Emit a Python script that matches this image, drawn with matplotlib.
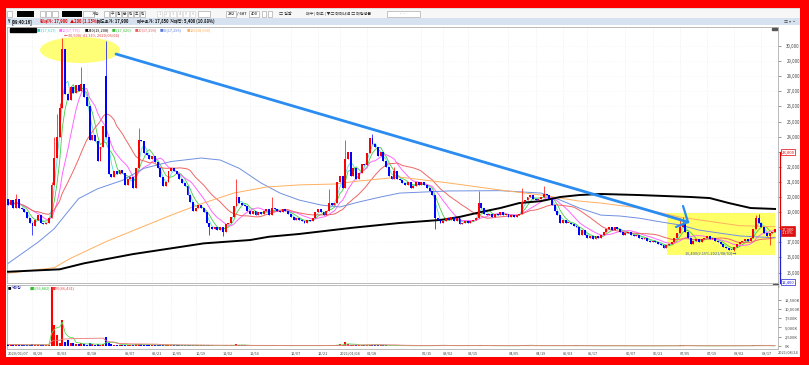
import numpy as np
import pandas as pd
import matplotlib.pyplot as plt
from matplotlib.patches import Rectangle, Ellipse

plt.rcParams['font.family'] = ['Noto Sans CJK KR', 'DejaVu Sans']

# === DATA ===
close = [
    19500, 19800, 19300, 19900, 19300, 19200, 19000, 18600, 18300, 18100,
    18500, 18800, 18300, 18200, 18300, 18600, 20800,
    22600, 24000, 25900, 29800, 26800, 26400, 27300, 26900, 27400, 27000,
    27500, 26600, 26000, 23800, 24100, 23700, 22400, 23300, 24700, 24000,
    21500, 21300, 21700, 21500, 21800, 21600, 20800, 21200, 21300, 20600,
    21900, 23800, 23700, 22900, 22800, 22500, 22700, 22300, 21900, 21300,
    20700, 21000, 21700, 21900, 21700, 21500, 21200, 20900, 20700, 20100,
    19700, 19100, 19300,
    19500, 19300, 19000, 18300, 18000, 17900, 18000, 17800, 18000, 17700,
    18200, 18300, 18700, 19400, 20000, 19600, 19500, 19400, 19100, 18900,
    19100, 18800, 19000, 18900, 19100, 19200, 18800, 19300, 19200, 19100,
    19000, 19200, 19100, 18900, 18700, 18500, 18600, 18500, 18400, 18300,
    18500, 18400, 18600, 19000, 19200, 19000, 18800, 19100, 19600, 19500,
    19600, 21000,
    21400, 20600, 22500, 23000, 21400, 21900, 21200, 21600, 22200, 22100,
    22900, 23900, 23500, 23300, 22700, 23000, 22400, 22000, 21400, 21200,
    21700, 21200, 21100, 20900, 20800, 21000, 20600, 20700, 21000, 20800,
    21000, 20800, 20600, 20400, 20100, 18600, 18500, 18300, 18400, 18600,
    18500, 18700, 18400, 18600, 18200, 18300, 18400, 18300, 18400, 18500,
    18600, 19600,
    19300, 18900, 18800, 18900, 18700, 18900, 18800, 19000, 18800, 18900,
    18700, 18800, 18700, 18800, 18900, 19700, 19800, 20000, 20100, 19900,
    19800, 19900, 20000, 20200, 20100, 19900, 19500, 19100, 18800, 18300,
    18500, 18300, 18300, 18200, 18100, 18000, 17500, 17800, 17500, 17300,
    17400, 17200, 17400, 17300, 17500, 17700, 17900, 18000, 17800, 18000,
    17900, 17700, 17500,
    17600, 17700, 17500, 17400, 17500, 17300, 17200, 17300, 17100, 17000,
    17100, 17000, 16900, 16800, 16600, 16800, 16900, 17000, 17300, 17600,
    18000, 18300, 17700, 17300, 16900, 17100, 17200, 17000, 17200, 17300,
    17400, 17200, 17300, 17100, 17000, 16900, 16700, 16600, 16500, 16500,
    16700, 16900, 17000, 17100, 17200, 17100, 17300, 17900, 18600, 18300,
    18000, 17600, 17400, 17600, 17700, 17900,
]
open_gap = {36: 28000}
high_wick = {3: 20200, 16: 21000, 17: 24000, 18: 25500, 19: 26200, 20: 30500,
             21: 29500, 27: 28600, 36: 30300, 48: 24600, 84: 21200, 97: 20000,
             118: 20500, 124: 23800, 134: 24200, 142: 22000, 173: 20400,
             189: 20600, 197: 20700, 247: 18600, 248: 18700, 275: 18800,
             276: 18900}
low_wick = {9: 17500, 74: 17500, 79: 17400, 157: 17900, 267: 16400, 280: 16800}

volume_k = [
    420, 380, 300, 350, 280, 260, 300, 340, 320, 450, 380, 300, 260, 240, 220, 300,
    15800, 5600, 2950, 800, 7000, 1100, 1500, 900, 700, 600, 500, 800, 500, 400,
    700, 500, 400, 450, 400, 600, 2500,
    900, 500, 400, 300, 350, 300, 400, 300, 250, 350, 500, 550, 450, 350, 300, 300,
    250, 300, 250, 300, 350, 250, 300, 250, 200, 200, 150, 200, 180, 220, 250, 200, 200,
    150, 150, 180, 220, 200, 150, 120, 100, 100, 120, 150, 120, 180, 300, 450, 250,
    180, 150, 120, 100, 100, 90, 80, 100, 120, 100, 100, 300, 150, 100, 90, 80, 80,
    90, 100, 80, 70, 80, 70, 60, 70, 60, 80, 120, 100, 90, 80, 100, 250, 150, 180, 400,
    500, 300, 1100, 500, 300, 250, 200, 250, 300, 250, 350, 400, 300, 250, 200, 200,
    150, 150, 120, 100, 120, 100, 90, 80, 80, 90, 80, 70, 80, 70, 80, 70, 60, 70, 80,
    400, 200, 150, 120, 100, 90, 80, 90, 80, 100, 80, 70, 60, 70, 60, 80, 200,
    150, 100, 80, 70, 60, 70, 60, 70, 80, 60, 60, 70, 60, 70, 80, 400, 200, 150, 120,
    100, 80, 70, 80, 100, 120, 80, 70, 90, 100, 80, 90, 80, 70, 60, 70, 150, 100, 80,
    70, 60, 60, 50, 60, 50, 60, 70, 80, 90, 70, 60, 60, 50, 50,
    50, 60, 50, 40, 50, 40, 40, 50, 40, 40, 50, 40, 40, 50, 60, 50, 40, 50, 80, 100,
    150, 200, 100, 80, 70, 50, 40, 50, 40, 40, 50, 40, 40, 50, 40, 50, 60, 50, 60, 80,
    70, 60, 50, 50, 60, 50, 60, 150, 300, 200, 120, 80, 60, 50, 40, 5.4,
]

# long moving averages (bar index, value)
ma60_idx = [0, 11, 17, 21, 26, 33, 42, 50, 60, 71, 78, 85, 93, 100, 107, 115, 122,
            129, 137, 144, 162, 181, 196, 203, 210, 218, 225, 232, 240, 247, 254,
            262, 269, 282]
ma60_val = [15600, 17000, 17900, 18800, 19900, 20550, 21100, 21900, 22350, 22580,
            22450, 21900, 20930, 20260, 19800, 19470, 19340, 19670, 20000, 20260,
            20400, 20420, 20260, 19800, 19270, 18800, 18740, 18600, 18350, 18150,
            17810, 17600, 17420, 17295]
ma120_idx = [0, 17, 23, 36, 48, 60, 71, 83, 95, 107, 120, 129, 144, 162, 181, 196,
             210, 218, 232, 247, 262, 269, 282]
ma120_val = [14950, 15320, 15940, 17040, 17920, 18800, 19550, 20260, 20660, 20800,
             20860, 21060, 21320, 20930, 20460, 20130, 19730, 19600, 19270, 18670,
             18280, 18100, 18030]
ma240_idx = [0, 19, 28, 46, 64, 72, 89, 96, 107, 126, 144, 159, 166, 174, 181, 188,
             196, 203, 210, 218, 232, 251, 258, 265, 273, 282]
ma240_val = [15050, 15210, 15610, 16220, 16710, 16930, 17150, 17370, 17550, 17950,
             18280, 18480, 18680, 19010, 19270, 19600, 19730, 20000, 20130, 20200,
             20130, 20000, 19930, 19600, 19270, 19208]

date_idx = [0, 9, 18, 29, 43, 53, 60, 69, 79, 89, 104, 114, 122, 132, 152, 160,
            169, 184, 194, 204, 213, 227, 237, 247, 257, 267, 277]
date_lbl = ['2020/01/07', '01/20', '06/03', '06/18', '09/07', '09/21', '10/05',
            '10/19', '11/02', '11/16', '12/07', '12/21', '2021/01/04', '01/18',
            '02/15', '03/02', '03/15', '04/05', '04/19', '05/03', '05/17', '06/07',
            '06/21', '07/05', '07/19', '08/02', '08/17']
last_date = '2021/08/24'
price_ticks = [15000, 16000, 17000, 18000, 19000, 20000, 21000, 22000, 23000,
               24000, 25000, 26000, 27000, 28000, 29000, 30000]
vol_ticks = [0, 2500, 5000, 7500, 10000, 12500]

legend_items = [('3(17,617)', '#33cccc'), ('10(17,775)', '#ff66ff'),
                ('240(19,208)', '#000000'), ('5(17,620)', '#33bb33'),
                ('20(17,290)', '#ee5555'), ('60(17,295)', '#5577dd'),
                ('120(18,030)', '#ffaa55')]
legend_x = [37, 59, 85, 112, 135, 160, 187]

# === FRAME ===
W, H = 809, 365
fig = plt.figure(figsize=(W / 100, H / 100), dpi=100)
fig.patch.set_facecolor('white')


def px_axes(x0, y0, x1, y1, **kw):
    return fig.add_axes([x0 / W, 1 - y1 / H, (x1 - x0) / W, (y1 - y0) / H], **kw)


# toolbar / info bar in pixel coords
bg = px_axes(0, 0, W, H, zorder=-5)
bg.set_xlim(0, W)
bg.set_ylim(H, 0)
bg.axis('off')
bg.add_patch(Rectangle((6, 8), 794, 10, facecolor='#f7f7f7', edgecolor='#c8c8c8', lw=0.4))
bg.add_patch(Rectangle((6, 18), 794, 7, color='#d6e2f0', lw=0))
for x0, w in [(17, 17), (62, 20)]:
    bg.add_patch(Rectangle((x0, 10.5), w, 6, color='black', lw=0))
for x0, w in [(7, 5), (40, 5), (46, 5), (52, 6), (83, 11), (104, 5), (110, 5),
              (116, 5), (122, 5), (128, 5), (134, 5), (140, 5), (198, 12),
              (226, 10), (249, 10), (262, 4), (268, 4)]:
    bg.add_patch(Rectangle((x0, 10.5), w, 6, facecolor='white', edgecolor='#9a9a9a', lw=0.4))
for k in range(6):
    bg.add_patch(Rectangle((157 + k * 6.6, 10.5), 5.5, 6, facecolor='white',
                           edgecolor='#cfcfcf', lw=0.4))
    bg.text(159.8 + k * 6.6, 13.6, str(k + 1), fontsize=3.0, color='#b0b0b0',
            ha='center', va='center')
bg.text(96, 13.6, '계속', fontsize=3.0, ha='center', va='center', color='#333333')
for k, ch in enumerate('주월분틱초틱'):
    bg.text(112.5 + k * 6, 13.6, ch, fontsize=2.7, ha='center', va='center',
            color='#333333')
bg.text(231, 13.6, '282', fontsize=3.0, ha='center', va='center')
bg.text(242, 13.6, '/ 687', fontsize=3.0, ha='center', va='center')
bg.text(254, 13.6, '400', fontsize=3.0, ha='center', va='center')
bg.text(285, 13.6, '□ 일괄', fontsize=3.0, ha='center', va='center', color='#333333')
bg.text(306, 13.6, '배수 | 매도 | ▼□ 매매내역 □ 매입평균', fontsize=2.9, va='center',
        color='#333333')
bg.add_patch(Rectangle((387, 10.5), 33, 6, facecolor='white', edgecolor='#9a9a9a', lw=0.4))
bg.text(402, 13.6, '-  -', fontsize=3.0, ha='center', va='center', color='#666666')
info = [(7, 'Y', '#111111'), (12, '[09:40:16]', '#111111'),
        (40, '현재가: 17,900', '#dd0000'), (70, '▲200 (1.13%)', '#dd0000'),
        (97, '매도호가: 17,900', '#111111'), (137, '매수호가: 17,850', '#111111'),
        (170, '거래량: 5,400 (10.88%)', '#111111')]
for x0, txt, cc in info:
    bg.text(x0, 21.6, txt, fontsize=3.0, va='center', color=cc, fontweight='bold')
bg.text(796, 21.6, '▥ ▾ ▪', fontsize=3.0, va='center', ha='right', color='#555555')
bg.text(778, 352.5, last_date, fontsize=2.8, va='center', ha='left', color='#444444')

# === PRICE PANE ===
X0 = 8
DX = 2.72
PY0 = 46
PK = 0.0151


def bx(x):
    return (x - X0) / DX


def py(y):
    return 30000 - (y - PY0) / PK


n = len(close)
idx = np.arange(n)
c = np.array(close, dtype=float)
o = np.r_[c[0] + 400, c[:-1]]
for k, v in open_gap.items():
    o[k] = v
hi = np.maximum(o, c)
lo = np.minimum(o, c)
for k, v in high_wick.items():
    hi[k] = v
for k, v in low_wick.items():
    lo[k] = v
up = c >= o
col = np.where(up, '#ff0000', '#0000ff')

ax = px_axes(7, 27, 778, 283)
ax.set_xlim(bx(7), bx(778))
ax.set_ylim(py(283), py(27))
for s in ax.spines.values():
    s.set_color('#b0b0b0')
    s.set_linewidth(0.6)
ax.set_xticks([])
ax.yaxis.tick_right()
ax.set_yticks(price_ticks)
ax.set_yticklabels(['' if t in (18000, 23000) else f'{t:,}' for t in price_ticks])
ax.tick_params(axis='y', labelsize=3.1, length=2, width=0.4, colors='#444444', pad=4)
for t in price_ticks:
    ax.axhline(t, color='#f0f0f0', lw=0.4, ls=':', zorder=0)
for d in date_idx:
    ax.axvline(d, color='#e4e4e4', lw=0.4, ls=':', zorder=0)

# highlights (behind candles)
ax.add_patch(Ellipse((bx(80), py(50)), bx(120) - bx(40), py(37) - py(63),
                     facecolor='#ffff77', edgecolor='none', zorder=1))
ax.add_patch(Rectangle((bx(667), py(255)), bx(775) - bx(667), py(213) - py(255),
                       facecolor='#ffff66', edgecolor='none', zorder=1))

# moving averages
cs = pd.Series(c)
ax.plot(idx, cs.rolling(3, min_periods=1).mean(), color='#55dddd', lw=0.6, zorder=3)
ax.plot(idx, cs.rolling(5, min_periods=1).mean(), color='#44cc44', lw=0.6, zorder=3)
ax.plot(idx, cs.rolling(10, min_periods=1).mean(), color='#ff66ff', lw=0.7, zorder=3)
ax.plot(idx, cs.rolling(20, min_periods=1).mean(), color='#ee6666', lw=0.7, zorder=3)
ax.plot(ma60_idx, ma60_val, color='#7090e0', lw=0.7, zorder=3)
ax.plot(ma120_idx, ma120_val, color='#ffb060', lw=0.7, zorder=3)
ax.plot(ma240_idx, ma240_val, color='black', lw=1.4, zorder=3)

# candles
ax.vlines(idx, lo, hi, colors=col, lw=0.5, zorder=4)
body = np.maximum(np.abs(c - o), 40)
ax.bar(idx, body, bottom=np.minimum(o, c), width=0.72, color=col, lw=0, zorder=5)

# blue trend arrow
ax.plot([bx(116), bx(688)], [py(54), py(222)], color='#2a8cf0', lw=2.0,
        solid_capstyle='round', zorder=6)
ax.plot([bx(683), bx(688), bx(676)], [py(206), py(222), py(227)], color='#2a8cf0',
        lw=1.6, solid_capstyle='round', solid_joinstyle='round', zorder=6)

# annotations
ax.text(bx(64), py(35), '←30,500(-41.31% 2020/06/04)', fontsize=2.8, color='#e04040',
        va='center', ha='left', zorder=7)
ax.text(bx(736), py(253), '16,400(9.15% 2021/08/02)→', fontsize=2.8, color='#3050c0',
        va='center', ha='right', zorder=7)

# legend row
ax.add_patch(Rectangle((bx(10), py(32)), bx(36) - bx(10), py(27.5) - py(32),
                       color='black', zorder=7, clip_on=False))
for (txt, cc), lx in zip(legend_items, legend_x):
    ax.text(bx(lx), py(30), '■', fontsize=2.4, color=cc, va='center', zorder=7)
    ax.text(bx(lx + 2.5), py(30), txt, fontsize=2.8, color=cc, va='center', zorder=7)

# right side price markers
ax.plot([bx(779.5)] * 2, [py(152), py(230)], color='#dd0000', lw=0.9, clip_on=False)
ax.plot([bx(779.5)] * 2, [py(230), py(283)], color='#2020cc', lw=0.9, clip_on=False)
ax.text(bx(781.5), py(152), '23,000', fontsize=3.0, color='#dd0000', va='center',
        bbox=dict(boxstyle='square,pad=0.15', fc='white', ec='#dd0000', lw=0.5),
        clip_on=False)
ax.text(bx(781.5), py(231), '17,900\n1.13%', fontsize=2.9, color='white', va='center',
        linespacing=0.9,
        bbox=dict(boxstyle='square,pad=0.2', fc='#dd1111', ec='#dd1111', lw=0.5),
        clip_on=False)
ax.text(bx(781.5), py(282), '12,400', fontsize=3.0, color='#2020cc', va='center',
        bbox=dict(boxstyle='square,pad=0.15', fc='white', ec='#2020cc', lw=0.5),
        clip_on=False)
ax.add_patch(Rectangle((bx(773), py(287)), bx(778) - bx(773), py(284) - py(287),
                       color='#555555', zorder=7, clip_on=False))
ax.add_patch(Rectangle((bx(772), py(30)), bx(777) - bx(772), py(27.5) - py(30),
                       color='#555555', zorder=7, clip_on=False))

# === VOLUME PANE ===
vax = px_axes(7, 285, 778, 349)
VY0 = 346
VK = 3.72 / 1000
vax.set_xlim(bx(7), bx(778))
vax.set_ylim(-(349 - VY0) / VK, (VY0 - 285) / VK)
for s in vax.spines.values():
    s.set_color('#b0b0b0')
    s.set_linewidth(0.6)
vax.yaxis.tick_right()
vax.set_yticks(vol_ticks)
vax.set_yticklabels([f'{t:,}K' for t in vol_ticks])
vax.tick_params(axis='y', labelsize=2.9, length=2, width=0.4, colors='#444444', pad=3)
vax.set_xticks(date_idx)
vax.set_xticklabels(date_lbl, ha='left')
vax.tick_params(axis='x', labelsize=2.8, length=0, colors='#444444', pad=1.5)
for d in date_idx:
    vax.axvline(d, color='#e4e4e4', lw=0.4, ls=':', zorder=0)
vol = np.array(volume_k, dtype=float)
vax.vlines(idx, 0, vol, colors=col, lw=1.5, zorder=3)
vs = pd.Series(vol)
vax.plot(idx, vs.rolling(5, min_periods=1).mean(), color='#55dd55', lw=0.6, zorder=4)
vax.plot(idx, vs.rolling(20, min_periods=1).mean(), color='#ee7777', lw=0.6, zorder=4)
vy = (VY0 - 288) / VK
vax.text(bx(8), vy, '■', fontsize=2.4, color='black', va='center')
vax.text(bx(11), vy, '거래량', fontsize=2.8, color='#2020aa', va='center')
vax.text(bx(30), vy, '■5(56,882)', fontsize=2.8, color='#33bb33', va='center')
vax.text(bx(52), vy, '■20(66,431)', fontsize=2.8, color='#ee4444', va='center')

# red highlight frame around the whole screenshot
bg2 = px_axes(0, 0, W, H, zorder=20)
bg2.set_xlim(0, W)
bg2.set_ylim(H, 0)
bg2.axis('off')
bg2.patch.set_alpha(0)
for r in [(0, 0, W, 8), (0, 357, W, 8), (0, 0, 6, H), (800, 0, 9, H)]:
    bg2.add_patch(Rectangle((r[0], r[1]), r[2], r[3], color='#ff0000', lw=0))

fig.savefig('out.png', dpi=100)
